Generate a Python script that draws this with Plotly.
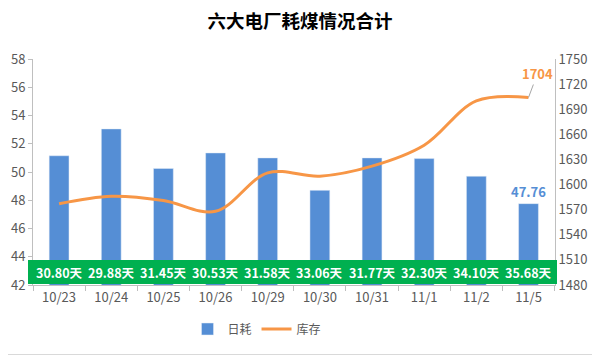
import plotly.graph_objects as go
from plotly.subplots import make_subplots

categories = ["10/23", "10/24", "10/25", "10/26", "10/29", "10/30", "10/31", "11/1", "11/2", "11/5"]
daily_use = [51.15, 53.05, 50.25, 51.35, 51.0, 48.7, 51.0, 50.95, 49.7, 47.76]
stock = [1577, 1586, 1581, 1568, 1614, 1610, 1622, 1647, 1700, 1704]
days = ["30.80天", "29.88天", "31.45天", "30.53天", "31.58天", "33.06天", "31.77天", "32.30天", "34.10天", "35.68天"]

FONT = "Noto Sans CJK SC, Microsoft YaHei, sans-serif"
BLUE = "#558ED5"
ORANGE = "#F79646"
GREEN = "#00B050"
GREY_TXT = "#595959"
AXIS = "#BFBFBF"

fig = make_subplots(specs=[[{"secondary_y": True}]])
fig.add_trace(go.Bar(x=categories, y=daily_use, name="日耗", marker_color=BLUE,
                     width=0.38), secondary_y=False)
fig.add_trace(go.Scatter(x=categories, y=stock, name="库存", mode="lines",
                         line=dict(color=ORANGE, width=3, shape="spline", smoothing=1.0)),
              secondary_y=True)

# page body has an 8px margin, so the figure is sized to fit the window
OFF = 8
W, H = 600 - OFF, 355 - OFF
L, R, T, B = 33 - OFF, 45, 59 - OFF, 70
pw, ph = W - L - R, H - T - B

def px(x):  # screen x -> paper
    return (x - OFF - L) / pw

def py(y):  # screen y -> paper
    return (H - B - (y - OFF)) / ph

shapes = [
    dict(type="rect", xref="paper", yref="paper", x0=px(28), x1=px(557), y0=py(284), y1=py(260),
         fillcolor=GREEN, line=dict(width=0), layer="above"),
    dict(type="line", xref="paper", yref="paper", x0=px(599.5), x1=px(599.5), y0=py(354.5), y1=py(8),
         line=dict(color="#D9D9D9", width=1)),
    dict(type="line", xref="paper", yref="paper", x0=px(8), x1=px(599.5), y0=py(354.5), y1=py(354.5),
         line=dict(color="#D9D9D9", width=1)),
]

annotations = []
for c, d in zip(categories, days):
    annotations.append(dict(x=c, xref="x", y=py(272), yref="paper", yanchor="middle", text=d,
                            showarrow=False,
                            font=dict(family=FONT, size=12.5, color="white", weight="bold")))

annotations.append(dict(x=categories[-1], y=daily_use[-1], xref="x", yref="y", text="47.76",
                        showarrow=False, yshift=12,
                        font=dict(family=FONT, size=13, color=BLUE, weight="bold")))
annotations.append(dict(x=categories[-1], y=stock[-1], xref="x", yref="y2", text="1704",
                        showarrow=True, arrowhead=0, arrowwidth=1, arrowcolor="#A6A6A6",
                        ax=9, ay=-24, standoff=0,
                        font=dict(family=FONT, size=13, color=ORANGE, weight="bold")))

fig.update_layout(
    width=W, height=H,
    margin=dict(l=L, r=R, t=T, b=B, autoexpand=False),
    paper_bgcolor="white", plot_bgcolor="white",
    title=dict(text="六大电厂耗煤情况合计", x=(300 - OFF) / W, xanchor="center",
               y=1 - (22 - OFF) / H, yanchor="middle",
               font=dict(family=FONT, size=18.5, color="#000000", weight="bold")),
    font=dict(family=FONT, size=12, color=GREY_TXT),
    showlegend=True,
    legend=dict(orientation="h", x=px(257), xanchor="center", y=py(329), yanchor="middle",
                font=dict(family=FONT, size=12, color=GREY_TXT), bgcolor="rgba(0,0,0,0)",
                itemwidth=30),
    shapes=shapes, annotations=annotations,
)
fig.update_xaxes(type="category", domain=[0, 1], showline=True, linecolor=AXIS, linewidth=1,
                 automargin=False, ticks="outside", tickson="boundaries", ticklen=5, tickcolor=AXIS,
                 showgrid=False, tickfont=dict(family=FONT, size=13, color=GREY_TXT))
fig.update_yaxes(range=[42, 58], tick0=42, dtick=2, showgrid=False, showline=True, linecolor=AXIS,
                 ticks="outside", ticklen=4, tickcolor=AXIS, zeroline=False, automargin=False,
                 tickfont=dict(family=FONT, size=13, color=GREY_TXT), secondary_y=False)
fig.update_yaxes(range=[1480, 1750], tick0=1480, dtick=30, showgrid=False, showline=True,
                 linecolor=AXIS, ticks="", zeroline=False, automargin=False,
                 tickfont=dict(family=FONT, size=13, color=GREY_TXT), secondary_y=True)

fig.write_html("out.html")
